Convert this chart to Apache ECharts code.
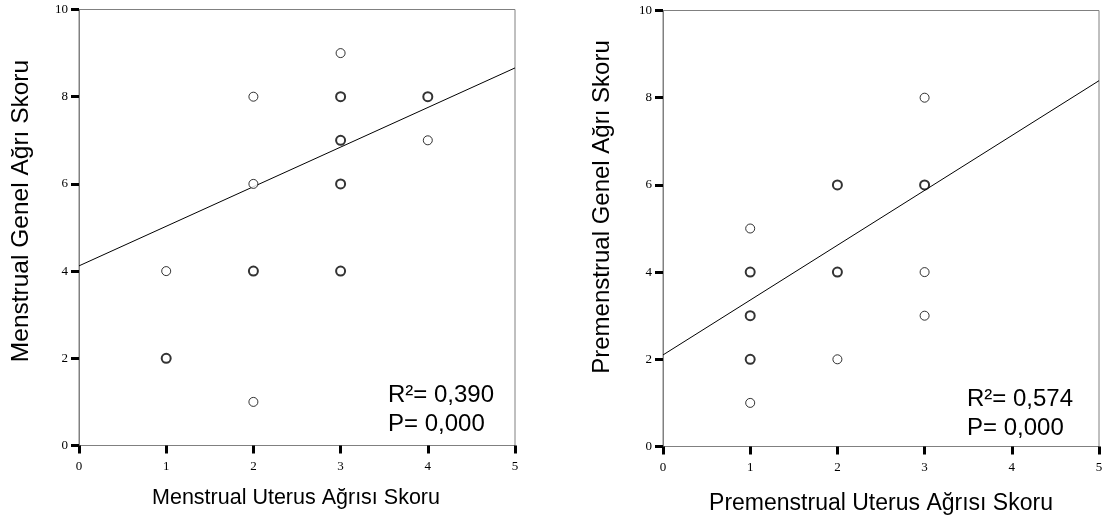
<!DOCTYPE html>
<html>
<head>
<meta charset="utf-8">
<script src="https://cdn.jsdelivr.net/npm/echarts@6/dist/echarts.min.js"></script>
<style>html,body{margin:0;padding:0;background:#fff}#c{width:1110px;height:524px}</style>
</head>
<body>
<div id="c"></div>
<script>
// Left panel: Menstrual
const leftSingle = [[1,4],[2,8],[2,6],[2,1],[3,9],[4,7]];
const leftMulti  = [[1,2],[2,4],[3,8],[3,7],[3,6],[3,4],[4,8]];
const leftFit    = [[0,4.12],[5,8.66]];
const leftR2 = '0,390';
const leftP  = '0,000';
// Right panel: Premenstrual
const rightSingle = [[1,5],[1,1],[2,2],[3,8],[3,4],[3,3]];
const rightMulti  = [[1,4],[1,3],[1,2],[2,6],[2,4],[3,6]];
const rightFit    = [[0,2.10],[5,8.39]];
const rightR2 = '0,574';
const rightP  = '0,000';

const xTitles = ['Menstrual Uterus Ağrısı Skoru','Premenstrual Uterus Ağrısı Skoru'];
const yTitles = ['Menstrual Genel Ağrı Skoru','Premenstrual Genel Ağrı Skoru'];

const chart = echarts.init(document.getElementById('c'), null, {renderer:'canvas'});
const sans = 'Liberation Sans, Arial, sans-serif';
const serif = 'Liberation Serif, Times New Roman, serif';

function xAxis(i){
  return {gridIndex:i,type:'value',min:0,max:5,interval:1,
    axisLine:{show:true,lineStyle:{color:'#808080',width:1}},
    axisTick:{show:true,length:8,lineStyle:{color:'#000',width:3}},
    axisLabel:{fontFamily:serif,fontSize:13,color:'#000',margin:15},
    splitLine:{show:false}};
}
function yAxis(i){
  return {gridIndex:i,type:'value',min:0,max:10,interval:2,
    axisLine:{show:true,lineStyle:{color:'#808080',width:1}},
    axisTick:{show:true,length:8,lineStyle:{color:'#000',width:3}},
    axisLabel:{fontFamily:serif,fontSize:13,color:'#000',margin:11},
    splitLine:{show:false}};
}
function pts(data,i,bw){
  return {type:'scatter',xAxisIndex:i,yAxisIndex:i,data:data,symbol:'circle',symbolSize:9,
    itemStyle:{color:'#fff',borderColor:'#000',borderWidth:bw},silent:true,z:3};
}
function fit(data,i){
  return {type:'line',xAxisIndex:i,yAxisIndex:i,data:data,symbol:'none',
    lineStyle:{color:'#000',width:1},silent:true,z:2};
}
function statText(r2,p){
  return 'R\u00B2= '+r2+'\nP= '+p;
}

chart.setOption({
  animation:false,
  grid:[
    {left:79,top:9.5,width:436,height:436,show:true,borderColor:'#808080',borderWidth:1,containLabel:false},
    {left:663,top:10.5,width:436,height:436,show:true,borderColor:'#808080',borderWidth:1,containLabel:false}
  ],
  xAxis:[xAxis(0),xAxis(1)],
  yAxis:[yAxis(0),yAxis(1)],
  series:[
    fit(leftFit,0), pts(leftSingle,0,1), pts(leftMulti,0,2),
    fit(rightFit,1), pts(rightSingle,1,1), pts(rightMulti,1,2)
  ],
  graphic:[
    {type:'text',x:296,y:498,style:{text:xTitles[0],font:'21.5px '+sans,fill:'#000',align:'center',verticalAlign:'middle'}},
    {type:'text',x:881,y:504,style:{text:xTitles[1],font:'23px '+sans,fill:'#000',align:'center',verticalAlign:'middle'}},
    {type:'text',x:21,y:211,rotation:Math.PI/2,style:{text:yTitles[0],font:'24.5px '+sans,fill:'#000',align:'center',verticalAlign:'middle'}},
    {type:'text',x:602,y:207,rotation:Math.PI/2,style:{text:yTitles[1],font:'24px '+sans,fill:'#000',align:'center',verticalAlign:'middle'}},
    {type:'text',x:388,y:381,style:{text:statText(leftR2,leftP),font:'24px '+sans,lineHeight:29,fill:'#000',align:'left',verticalAlign:'top'}},
    {type:'text',x:967,y:385,style:{text:statText(rightR2,rightP),font:'24px '+sans,lineHeight:29,fill:'#000',align:'left',verticalAlign:'top'}}
  ]
});
</script>
</body>
</html>
